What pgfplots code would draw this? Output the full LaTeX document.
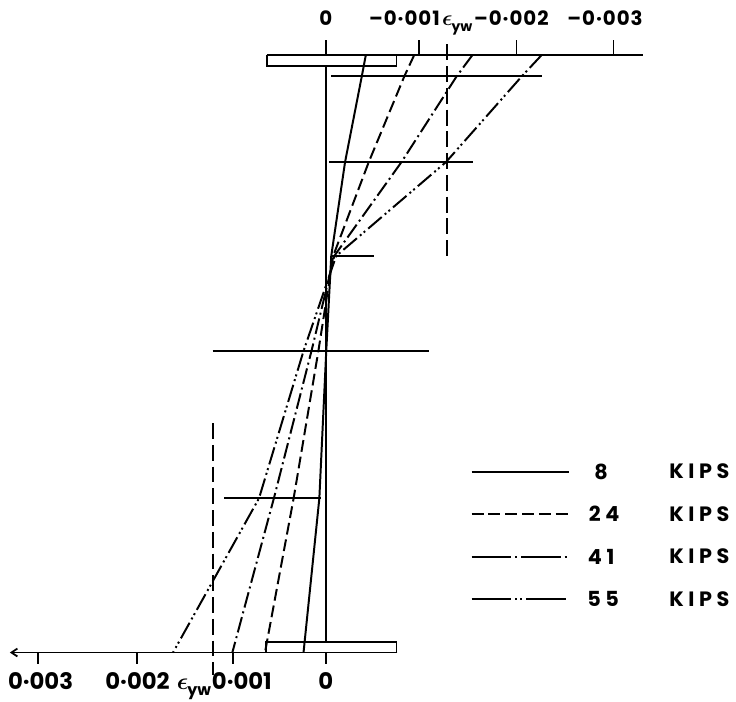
\documentclass[border=0pt]{standalone}
\usepackage{fontspec}
\setmainfont{Poppins}
\newfontfamily\legfont{Poppins}[LetterSpace=22]
\newfontfamily\topfont{Poppins}[LetterSpace=5]
\usepackage{pgfplots}
\pgfplotsset{compat=1.18}
\usetikzlibrary{arrows.meta}
\newcommand{\epsyw}[2]{{\fontsize{#1}{#1}\selectfont\boldmath$\epsilon$}\kern-0.5pt\raisebox{-0.55ex}{\fontsize{#2}{#2}\selectfont yw}}
\begin{document}
\begin{tikzpicture}
\begin{axis}[
  width=368pt, height=353.5pt, scale only axis,
  hide axis, clip=false,
  x dir=reverse,
  xmin=-4.191, xmax=3.397,
  ymin=-0.0778, ymax=1.0918,
]
% invisible frame fixing the picture's extent
\path (axis cs:3.397,-0.0778) rectangle (axis cs:-4.191,1.0918);
% ---- section outline and axes ----
\addplot[black, line width=0.9pt] coordinates {(0.613,1) (-3.304,1)};
\addplot[black, line width=0.8pt] coordinates {(0.613,1) (-0.737,1) (-0.737,0.9818) (0.613,0.9818) (0.613,1)};
\addplot[black, line width=0.8pt] coordinates {(0,0.9818) (0,0.0174)};
\addplot[black, line width=0.8pt] coordinates {(0.624,0) (-0.737,0) (-0.737,0.0174) (0.624,0.0174) (0.624,0)};
\addplot[black, line width=0.9pt, -{Straight Barb[length=3pt,width=4pt]}] coordinates {(-0.747,0) (3.294,0)};
% ticks
\addplot[black, line width=0.8pt] coordinates {(0,1) (0,1.0248)};
\addplot[black, line width=0.8pt] coordinates {(-0.97,1) (-0.97,1.0248)};
\addplot[black, line width=0.8pt] coordinates {(-1.99,1) (-1.99,1.0248)};
\addplot[black, line width=0.8pt] coordinates {(-3.0,1) (-3.0,1.0248)};
\addplot[black, line width=0.8pt] coordinates {(0,0) (0,-0.02)};
\addplot[black, line width=0.8pt] coordinates {(0.97,0) (0.97,-0.02)};
\addplot[black, line width=0.8pt] coordinates {(1.97,0) (1.97,-0.02)};
\addplot[black, line width=0.8pt] coordinates {(3.0,0) (3.0,-0.02)};
% gauge levels
\addplot[black, line width=1pt] coordinates {(-0.057,0.9644) (-2.253,0.9644)};
\addplot[black, line width=1pt] coordinates {(-0.036,0.8205) (-1.531,0.8205)};
\addplot[black, line width=1pt] coordinates {(-0.057,0.6634) (-0.500,0.6634)};
\addplot[black, line width=1pt] coordinates {(1.180,0.5045) (-1.077,0.5045)};
\addplot[black, line width=1pt] coordinates {(1.057,0.2581) (0.046,0.2581)};
% yield strain lines
\addplot[black, line width=1pt, dash pattern=on 8pt off 3pt] coordinates {(-1.263,1.0174) (-1.263,0.6584)};
\addplot[black, line width=1pt, dash pattern=on 8pt off 3pt] coordinates {(1.180,0.3838) (1.180,-0.038)};
% ---- strain profiles ----
\addplot[black, line width=1pt] coordinates {(-0.418,1) (-0.376,0.9644) (-0.201,0.8205) (-0.057,0.6634) (-0.005,0.5045) (0.067,0.2581) (0.232,0)};
\addplot[black, line width=1pt, dash pattern=on 6pt off 2.5pt] coordinates {(-0.923,1) (-0.820,0.9644) (-0.448,0.8205) (-0.077,0.6634) (0.077,0.5045) (0.335,0.2581) (0.634,0)};
\addplot[black, line width=1pt, dash pattern=on 8pt off 2pt on 1pt off 2pt] coordinates {(-1.531,1) (-1.366,0.9644) (-0.789,0.8205) (-0.088,0.6634) (0.149,0.5045) (0.541,0.2581) (0.974,0)};
\addplot[black, line width=1pt, dash pattern=on 9pt off 2pt on 1pt off 1.5pt on 1pt off 2pt] coordinates {(-2.253,1) (-2.046,0.9644) (-1.253,0.8205) (-0.108,0.6634) (0.232,0.5045) (0.696,0.2581) (1.593,0)};
% ---- legend samples ----
\addplot[black, line width=1pt] coordinates {(-1.521,0.3027) (-2.536,0.3027)};
\addplot[black, line width=1pt, dash pattern=on 6pt off 2.5pt] coordinates {(-1.521,0.2316) (-2.536,0.2316)};
\addplot[black, line width=1pt, dash pattern=on 20pt off 2pt on 1pt off 2pt] coordinates {(-1.521,0.1604) (-2.536,0.1604)};
\addplot[black, line width=1pt, dash pattern=on 20pt off 2pt on 1pt off 1.5pt on 1pt off 2pt] coordinates {(-1.521,0.0893) (-2.536,0.0893)};
% ---- text ----
\node[font=\topfont\bfseries\fontsize{10}{12}\selectfont, anchor=base, inner sep=1pt] at (axis cs:0,1.0488) {0};
\node[font=\topfont\bfseries\fontsize{10}{12}\selectfont, anchor=base, inner sep=1pt] at (axis cs:-0.820,1.0488) {–0·001};
\node[font=\bfseries, anchor=base, inner sep=1pt] at (axis cs:-1.372,1.0488) {\epsyw{11}{7}};
\node[font=\topfont\bfseries\fontsize{10}{12}\selectfont, anchor=base, inner sep=1pt] at (axis cs:-1.935,1.0488) {–0·002};
\node[font=\topfont\bfseries\fontsize{10}{12}\selectfont, anchor=base, inner sep=1pt] at (axis cs:-2.912,1.0488) {–0·003};
\node[font=\bfseries\fontsize{11.5}{13}\selectfont, anchor=base, inner sep=1pt] at (axis cs:2.974,-0.0612) {0·003};
\node[font=\bfseries\fontsize{11.5}{13}\selectfont, anchor=base, inner sep=1pt] at (axis cs:1.963,-0.0612) {0·002};
\node[font=\bfseries, anchor=base, inner sep=1pt] at (axis cs:1.375,-0.0612) {\epsyw{13}{8}};
\node[font=\bfseries\fontsize{11.5}{13}\selectfont, anchor=base, inner sep=1pt] at (axis cs:0.875,-0.0612) {0·001};
\node[font=\bfseries\fontsize{11.5}{13}\selectfont, anchor=base, inner sep=1pt] at (axis cs:0,-0.0612) {0};
\node[font=\legfont\bfseries\fontsize{10.5}{12}\selectfont] at (axis cs:-2.871,0.3027) {8};
\node[font=\legfont\bfseries\fontsize{10.5}{12}\selectfont] at (axis cs:-2.902,0.2316) {24};
\node[font=\legfont\bfseries\fontsize{10.5}{12}\selectfont] at (axis cs:-2.871,0.1604) {41};
\node[font=\legfont\bfseries\fontsize{10.5}{12}\selectfont] at (axis cs:-2.892,0.0893) {55};
\node[font=\legfont\bfseries\fontsize{10.5}{12}\selectfont, anchor=west] at (axis cs:-3.510,0.3027) {KIPS};
\node[font=\legfont\bfseries\fontsize{10.5}{12}\selectfont, anchor=west] at (axis cs:-3.510,0.2316) {KIPS};
\node[font=\legfont\bfseries\fontsize{10.5}{12}\selectfont, anchor=west] at (axis cs:-3.510,0.1604) {KIPS};
\node[font=\legfont\bfseries\fontsize{10.5}{12}\selectfont, anchor=west] at (axis cs:-3.510,0.0893) {KIPS};
\end{axis}
\end{tikzpicture}
\end{document}
